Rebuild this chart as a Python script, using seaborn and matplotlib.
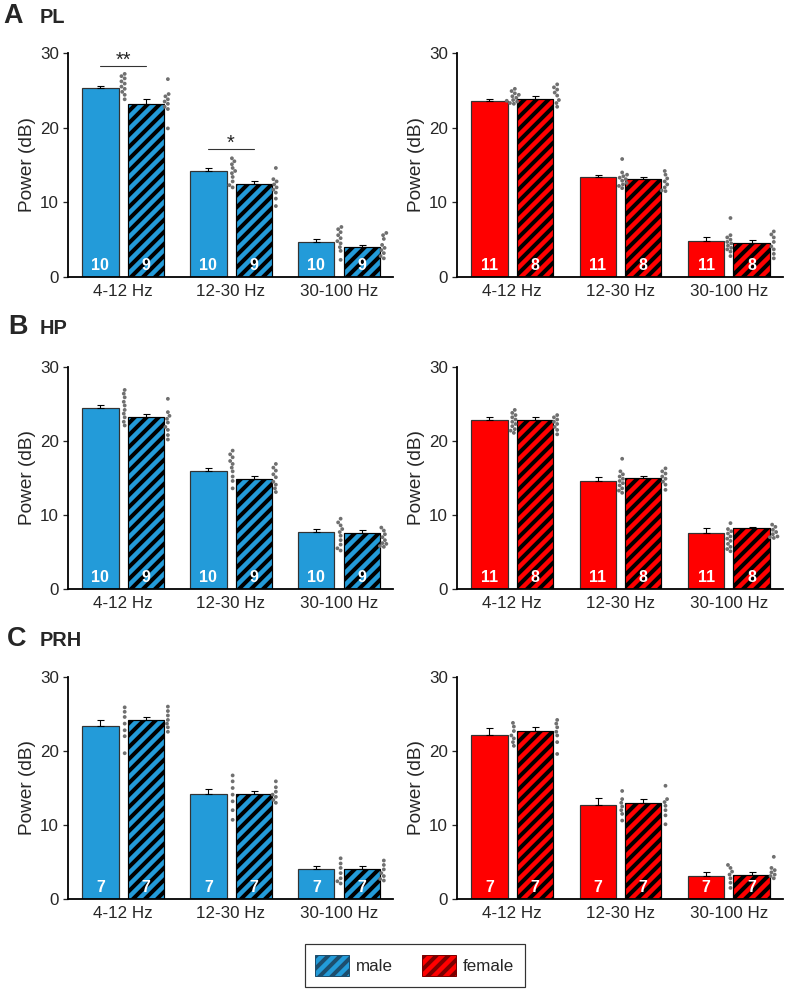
import numpy as np
import pandas as pd
import matplotlib
matplotlib.use('Agg')
import matplotlib.pyplot as plt
from matplotlib.patches import Patch
from matplotlib.transforms import Affine2D
import seaborn as sns

# ---- data (dB), rows = [plain bar, striped bar], cols = frequency bands ----
bands = ['4-12 Hz', '12-30 Hz', '30-100 Hz']
conds = ['plain', 'striped']

pl_male_mean = [[25.3, 14.2, 4.65], [23.15, 12.5, 4.0]]
pl_male_sem = [[0.3, 0.45, 0.45], [0.67, 0.36, 0.31]]
pl_male_n = [10, 9]
pl_male_dots = [
    [[27.2, 26.9, 26.6, 26.2, 25.9, 25.5, 25.2, 24.8, 24.4, 23.8],
     [15.9, 15.5, 15.1, 14.6, 14.2, 13.9, 13.4, 12.8, 12.3, 12.0],
     [6.7, 6.4, 6.0, 5.6, 5.2, 4.8, 4.5, 4.0, 3.5, 2.3]],
    [[26.5, 24.5, 24.2, 23.8, 23.5, 23.2, 22.8, 22.5, 19.9],
     [14.6, 13.1, 12.8, 12.4, 12.0, 11.7, 11.3, 10.5, 9.5],
     [5.9, 5.6, 5.1, 4.3, 3.9, 3.6, 3.2, 2.8, 2.5]],
]
pl_male_sig = [(0, '**', 28.3), (1, '*', 17.2)]

pl_female_mean = [[23.6, 13.35, 4.85], [23.8, 13.1, 4.55]]
pl_female_sem = [[0.27, 0.31, 0.53], [0.4, 0.27, 0.45]]
pl_female_n = [11, 8]
pl_female_dots = [
    [[25.2, 24.9, 24.6, 24.4, 24.2, 24.0, 23.7, 23.6, 23.5, 23.3, 23.2],
     [15.8, 14.0, 13.7, 13.5, 13.3, 13.1, 12.9, 12.6, 12.4, 12.2, 11.9],
     [7.9, 5.6, 5.3, 5.0, 4.7, 4.5, 4.2, 3.9, 3.7, 3.4, 2.8]],
    [[25.8, 25.4, 25.1, 24.7, 24.3, 23.7, 23.3, 22.8],
     [14.2, 13.7, 13.2, 12.8, 12.4, 12.0, 11.6, 11.5],
     [6.1, 5.7, 5.3, 4.7, 4.1, 3.7, 3.1, 2.5]],
]

hp_male_mean = [[24.45, 15.9, 7.7], [23.25, 14.85, 7.55]]
hp_male_sem = [[0.45, 0.49, 0.45], [0.36, 0.36, 0.36]]
hp_male_n = [10, 9]
hp_male_dots = [
    [[26.9, 26.4, 25.9, 25.3, 24.8, 24.2, 23.7, 23.2, 22.6, 22.1],
     [18.7, 18.2, 17.8, 17.3, 16.9, 16.4, 15.9, 15.2, 14.6, 13.6],
     [9.5, 9.0, 8.6, 8.1, 7.7, 7.2, 6.6, 6.0, 5.5, 5.2]],
    [[25.7, 23.9, 23.4, 23.0, 22.5, 21.9, 21.5, 20.8, 20.2],
     [16.9, 16.4, 16.0, 15.5, 15.1, 14.5, 14.1, 13.6, 13.1],
     [8.3, 7.9, 7.4, 7.0, 6.6, 6.2, 6.1, 5.8, 5.7]],
]

hp_female_mean = [[22.9, 14.55, 7.55], [22.9, 15.0, 8.2]]
hp_female_sem = [[0.31, 0.54, 0.63], [0.31, 0.31, 0.18]]
hp_female_n = [11, 8]
hp_female_dots = [
    [[24.2, 23.8, 23.5, 23.2, 22.9, 22.6, 22.3, 22.0, 21.6, 21.4, 21.1],
     [17.6, 15.9, 15.5, 15.2, 14.9, 14.6, 14.3, 14.0, 13.6, 13.3, 13.0],
     [8.9, 8.1, 7.8, 7.5, 7.1, 6.8, 6.5, 6.1, 5.7, 5.4, 5.1]],
    [[23.5, 23.2, 22.9, 22.6, 22.3, 21.9, 21.5, 20.9],
     [16.3, 15.9, 15.6, 15.2, 14.9, 14.5, 14.1, 13.4],
     [8.7, 8.4, 8.0, 7.7, 7.4, 7.1, 7.0, 6.9]],
]

prh_male_mean = [[23.4, 14.15, 4.05], [24.15, 14.2, 4.05]]
prh_male_sem = [[0.85, 0.77, 0.45], [0.45, 0.36, 0.36]]
prh_male_n = [7, 7]
prh_male_dots = [
    [[25.9, 25.3, 24.6, 23.7, 22.8, 22.0, 19.7],
     [16.7, 15.9, 15.0, 14.1, 13.2, 12.0, 10.7],
     [5.5, 4.8, 4.2, 3.5, 2.8, 2.4, 2.1]],
    [[26.0, 25.4, 24.8, 24.2, 23.7, 23.2, 22.6],
     [15.9, 15.1, 14.5, 14.1, 13.8, 13.4, 13.0],
     [5.2, 4.6, 4.0, 3.5, 3.1, 2.7, 2.5]],
]

prh_female_mean = [[22.2, 12.65, 3.05], [22.65, 12.95, 3.3]]
prh_female_sem = [[0.86, 0.95, 0.63], [0.54, 0.58, 0.32]]
prh_female_n = [7, 7]
prh_female_dots = [
    [[23.8, 23.3, 22.7, 22.1, 21.7, 21.2, 20.7],
     [14.6, 13.5, 13.0, 12.5, 12.0, 11.5, 10.6],
     [4.6, 4.2, 3.7, 3.3, 2.8, 2.2, 1.5]],
    [[24.2, 23.7, 23.2, 22.6, 22.1, 21.2, 19.6],
     [15.3, 13.5, 13.1, 12.6, 12.0, 11.3, 10.1],
     [5.7, 4.2, 3.9, 3.6, 3.3, 3.1, 2.8]],
]

blue = '#239bd9'
red = '#ff0000'
dot_gray = '#707070'

sns.set_style('ticks')
plt.rcParams['font.family'] = ['Liberation Sans', 'DejaVu Sans']
plt.rcParams['hatch.linewidth'] = 4.0

W, H = 787, 989
fig = plt.figure(figsize=(W / 72, H / 72), dpi=72)


def px_rect(x0, x1, ytop, ybot):
    return [x0 / W, 1 - ybot / H, (x1 - x0) / W, (ybot - ytop) / H]


def draw_panel(ax, mean, sem, dots, ns, color, sig=()):
    bars = pd.DataFrame({'band': bands * 2,
                         'cond': np.repeat(conds, 3),
                         'power': np.concatenate(mean)})
    sns.barplot(data=bars, x='band', y='power', hue='cond', order=bands,
                hue_order=conds, palette={c: color for c in conds},
                saturation=1, width=0.84, gap=0.2, errorbar=None,
                legend=False, edgecolor='#333333', linewidth=1.2, ax=ax)

    patches = sorted(ax.patches, key=lambda p: p.get_x())
    centers = [p.get_x() + p.get_width() / 2 for p in patches]
    for p in patches[1::2]:
        p.set_hatch('//')
        p.set_edgecolor('black')

    # individual animals, placed just right of each bar
    rows = [(bands[j], conds[i], v)
            for i in range(2) for j in range(3) for v in dots[i][j]]
    pts = pd.DataFrame(rows, columns=['band', 'cond', 'power'])
    n0 = len(ax.collections)
    sns.swarmplot(data=pts, x='band', y='power', hue='cond', order=bands,
                  hue_order=conds, dodge=True,
                  palette={c: dot_gray for c in conds}, size=3.8,
                  legend=False, ax=ax)
    shift = Affine2D().translate(0.215, 0) + ax.transData
    for coll in ax.collections[n0:]:
        coll.set_offset_transform(shift)
        coll.set_zorder(3)

    for i in range(2):
        xs = centers[i::2]
        ax.errorbar(xs, mean[i], yerr=[np.zeros(3), sem[i]], fmt='none',
                    ecolor='black', elinewidth=1.1, capsize=3.5, capthick=1.1,
                    zorder=2.5)
        for x in xs:
            ax.text(x, 1.6, str(ns[i]), color='white', fontsize=16,
                    fontweight='bold', ha='center', va='center', zorder=4)

    for g, mark, y in sig:
        x0, x1 = centers[2 * g], centers[2 * g + 1]
        ax.plot([x0, x1], [y, y], color='#333333', lw=1.1, clip_on=False)
        ax.text((x0 + x1) / 2, y, mark, ha='center', va='baseline',
                fontsize=20, clip_on=False)

    ax.set_xlim(-0.51, 2.5)
    ax.set_ylim(0, 30)
    ax.set_yticks([0, 10, 20, 30])
    ax.set_xlabel('')
    ax.set_ylabel('Power (dB)', fontsize=19, labelpad=4)
    sns.despine(ax=ax)
    ax.tick_params(axis='x', length=0, pad=7, labelsize=17)
    ax.tick_params(axis='y', length=5, width=1.3, pad=4, labelsize=17)
    for s in ['left', 'bottom']:
        ax.spines[s].set_linewidth(1.8)
        ax.spines[s].set_color('black')


row_px = [(53, 277), (367, 589), (677, 899)]
col_px = [(68, 393), (457, 783)]

panels = [
    (0, 0, pl_male_mean, pl_male_sem, pl_male_dots, pl_male_n, blue, pl_male_sig),
    (0, 1, pl_female_mean, pl_female_sem, pl_female_dots, pl_female_n, red, ()),
    (1, 0, hp_male_mean, hp_male_sem, hp_male_dots, hp_male_n, blue, ()),
    (1, 1, hp_female_mean, hp_female_sem, hp_female_dots, hp_female_n, red, ()),
    (2, 0, prh_male_mean, prh_male_sem, prh_male_dots, prh_male_n, blue, ()),
    (2, 1, prh_female_mean, prh_female_sem, prh_female_dots, prh_female_n, red, ()),
]

for r, c, mean, sem, dots, ns, color, sig in panels:
    ax = fig.add_axes(px_rect(col_px[c][0], col_px[c][1], row_px[r][0], row_px[r][1]))
    draw_panel(ax, mean, sem, dots, ns, color, sig)

# panel letters and region names
letters = [('A', 'PL', 3, 23), ('B', 'HP', 8, 334), ('C', 'PRH', 7, 646)]
for letter, region, x, base in letters:
    fig.text(x / W, 1 - base / H, letter, fontsize=27, fontweight='bold', va='baseline')
    fig.text(40 / W, 1 - base / H, region, fontsize=20, fontweight='bold', va='baseline')

handles = [Patch(facecolor=blue, edgecolor='#1d4e6e', hatch='//', label='male'),
           Patch(facecolor=red, edgecolor='#7a0000', hatch='//', label='female')]
leg = fig.legend(handles=handles, loc='center',
                 bbox_to_anchor=(414.5 / W, 1 - 965.5 / H), ncol=2,
                 frameon=True, fancybox=False, edgecolor='black', fontsize=17,
                 handlelength=2.0, handleheight=1.6, handletextpad=0.4,
                 columnspacing=1.75, borderpad=0.6)
leg.get_frame().set_linewidth(1.2)

fig.savefig('out.png', dpi=72, facecolor='white')
